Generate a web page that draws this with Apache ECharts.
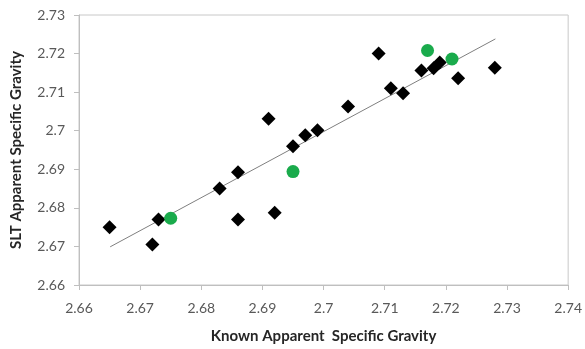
<!DOCTYPE html>
<html><head><meta charset="utf-8">
<script src="https://cdn.jsdelivr.net/npm/echarts@6/dist/echarts.min.js"></script>
<style>html,body{margin:0;padding:0;background:#fff}#c{width:585px;height:349px}</style>
</head><body><div id="c"></div>
<script>
const knownBlack = [2.665,2.672,2.673,2.683,2.686,2.686,2.692,2.691,2.695,2.697,2.699,2.704,2.709,2.711,2.713,2.716,2.718,2.719,2.722,2.728];
const sltBlack   = [2.675,2.6705,2.677,2.685,2.6892,2.677,2.6787,2.7031,2.696,2.6988,2.7001,2.7063,2.720,2.711,2.7097,2.7156,2.7162,2.7177,2.7136,2.7163];
const knownGreen = [2.675,2.695,2.717,2.721];
const sltGreen   = [2.6773,2.6894,2.7208,2.7186];
const trendX = [2.6651,2.7281];
const trendY = [2.6699,2.7238];
const xTicks = [2.66,2.74,0.01];
const yTicks = [2.66,2.73,0.01];
const xTitle = 'Known Apparent  Specific Gravity';
const yTitle = 'SLT Apparent Specific Gravity';

const zip = (a,b)=>a.map((v,i)=>[v,b[i]]);
const font = 'Lato, "Open Sans", sans-serif';
const chart = echarts.init(document.getElementById('c'));
chart.setOption({
  animation:false,
  grid:{left:79,right:14,top:15,bottom:61,show:true,borderColor:'#c8c8c8',borderWidth:1},
  xAxis:{type:'value',min:xTicks[0],max:xTicks[1],interval:xTicks[2],
    name:xTitle,nameLocation:'middle',nameGap:44,
    nameTextStyle:{fontFamily:font,fontWeight:'bold',fontSize:15,color:'#262626'},
    axisLine:{show:true,lineStyle:{color:'#bfbfbf'}},
    axisTick:{show:true,length:5,lineStyle:{color:'#bfbfbf'}},
    splitLine:{show:false},
    axisLabel:{fontFamily:font,fontSize:14,color:'#595959',margin:16,formatter:v=>String(+v.toFixed(2))}},
  yAxis:{type:'value',min:yTicks[0],max:yTicks[1],interval:yTicks[2],
    name:yTitle,nameLocation:'middle',nameGap:55,
    nameTextStyle:{fontFamily:font,fontWeight:'bold',fontSize:15,color:'#262626'},
    axisLine:{show:true,lineStyle:{color:'#bfbfbf'}},
    axisTick:{show:true,length:5,lineStyle:{color:'#bfbfbf'}},
    splitLine:{show:false},
    axisLabel:{fontFamily:font,fontSize:14,color:'#595959',margin:14,formatter:v=>String(+v.toFixed(2))}},
  series:[
    {type:'line',data:zip(trendX,trendY),symbol:'none',lineStyle:{color:'#7f7f7f',width:1},z:1},
    {type:'scatter',data:zip(knownBlack,sltBlack),symbol:'diamond',symbolSize:[14,14],itemStyle:{color:'#000',opacity:1},z:2},
    {type:'scatter',data:zip(knownGreen,sltGreen),symbol:'circle',symbolSize:13,itemStyle:{color:'#1aab4c',opacity:1},z:3}
  ]
});
</script></body></html>
